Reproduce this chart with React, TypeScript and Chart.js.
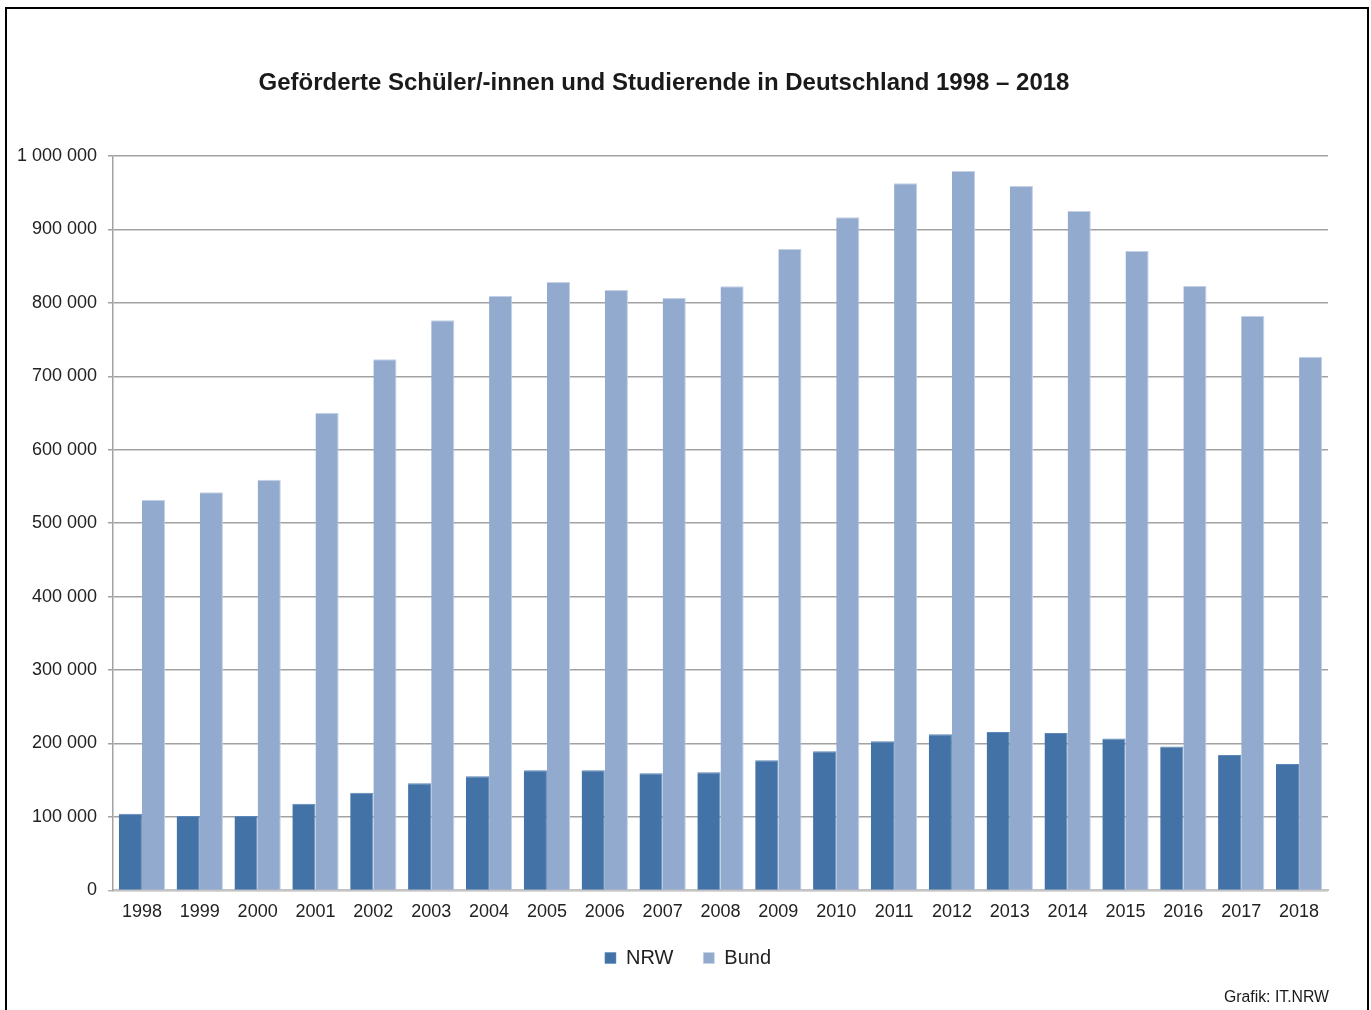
import React, { useEffect, useRef } from "react";
import { Chart, registerables } from "chart.js";

Chart.register(...registerables);

const years = [
  "1998", "1999", "2000", "2001", "2002", "2003", "2004", "2005", "2006", "2007", "2008",
  "2009", "2010", "2011", "2012", "2013", "2014", "2015", "2016", "2017", "2018",
];

const nrwValues = [
  104500, 101200, 101200, 118100, 133100, 145800, 155300, 163500, 163500, 159400, 160800,
  177100, 189400, 203000, 212500, 215700, 214300, 206700, 195800, 184400, 172100,
];

const bundValues = [
  531700, 542100, 559300, 650500, 723200, 776300, 809400, 828500, 817600, 806700, 822600,
  873400, 916600, 962900, 979600, 959100, 925100, 870600, 823000, 782100, 726800,
];

const seriesNames = ["NRW", "Bund"];
const titleText = "Geförderte Schüler/-innen und Studierende in Deutschland 1998 – 2018";
const creditText = "Grafik: IT.NRW";

const FONT = "'Liberation Sans', Arial, Helvetica, sans-serif";

function formatThousands(v: number): string {
  return String(Math.round(v)).replace(/\B(?=(\d{3})+(?!\d))/g, " ");
}

const legendShift = {
  id: "legendShift",
  afterLayout(chart: any) {
    const lg = chart.legend;
    if (!lg) return;
    const dx = 24;
    const dy = -16;
    lg.left += dx;
    lg.right += dx;
    lg.top += dy;
    lg.bottom += dy;
  },
};

export default function App() {
  const canvasRef = useRef<HTMLCanvasElement | null>(null);

  useEffect(() => {
    const canvas = canvasRef.current;
    if (!canvas) return;
    const chart = new Chart(canvas, {
      type: "bar",
      data: {
        labels: years,
        datasets: [
          {
            label: seriesNames[0],
            data: nrwValues,
            backgroundColor: "#4272a6",
            borderColor: "#5c87b6",
            borderWidth: { top: 1, right: 1, left: 0, bottom: 0 },
            borderSkipped: "start",
            categoryPercentage: 0.8,
            barPercentage: 1.0,
          },
          {
            label: seriesNames[1],
            data: bundValues,
            backgroundColor: "#93aacf",
            borderColor: "#c3d0e6",
            borderWidth: { top: 1, right: 1, left: 0, bottom: 0 },
            borderSkipped: "start",
            categoryPercentage: 0.8,
            barPercentage: 1.0,
          },
        ],
      },
      plugins: [legendShift],
      options: {
        responsive: false,
        animation: false,
        devicePixelRatio: 1,
        layout: { padding: { left: 0, right: 43, top: 0, bottom: 16 } },
        plugins: {
          title: {
            display: true,
            text: titleText,
            color: "#1a1a1a",
            font: { family: FONT, size: 24, weight: "bold" },
            padding: { top: 68.5, bottom: 58.7 },
          },
          tooltip: { enabled: false },
          legend: {
            display: true,
            position: "bottom",
            align: "center",
            labels: {
              boxWidth: 11,
              boxHeight: 11,
              padding: 30,
              color: "#222222",
              font: { family: FONT, size: 20 },
            },
          },
        },
        scales: {
          x: {
            grid: { display: false, drawTicks: false },
            border: { display: true, color: "#c4c4c6", width: 2 },
            ticks: {
              color: "#222222",
              font: { family: FONT, size: 18 },
              padding: 11,
              maxRotation: 0,
              autoSkip: false,
            },
          },
          y: {
            min: 0,
            max: 1000000,
            grid: {
              color: (ctx: any) => (ctx.tick && ctx.tick.value === 0 ? "#b4b4b6" : "#a2a2a4"),
              lineWidth: 1.5,
              drawTicks: true,
              tickLength: 5,
            },
            border: { display: true, color: "#a2a2a4", width: 1.5 },
            ticks: {
              stepSize: 100000,
              color: "#222222",
              font: { family: FONT, size: 18 },
              padding: 11,
              callback: (value: any) => formatThousands(Number(value)),
            },
            afterFit: (scale: any) => {
              scale.width = 113;
            },
          },
        },
      },
    });
    return () => {
      chart.destroy();
    };
  }, []);

  return (
    <div
      style={{
        position: "absolute",
        left: 0,
        top: 0,
        width: 1371,
        height: 1010,
        overflow: "hidden",
        background: "#ffffff",
      }}
    >
      <div
        style={{
          position: "absolute",
          left: 5,
          top: 7,
          width: 1364,
          height: 1100,
          boxSizing: "border-box",
          border: "2.5px solid #000000",
        }}
      />
      <canvas
        ref={canvasRef}
        width={1371}
        height={1010}
        style={{ position: "absolute", left: 0, top: 0, width: 1371, height: 1010 }}
      />
      <div
        style={{
          position: "absolute",
          right: 1371 - 1329,
          top: 989,
          fontFamily: FONT,
          fontSize: 15.8,
          lineHeight: "16px",
          color: "#1a1a1a",
          whiteSpace: "nowrap",
        }}
      >
        {creditText}
      </div>
    </div>
  );
}
